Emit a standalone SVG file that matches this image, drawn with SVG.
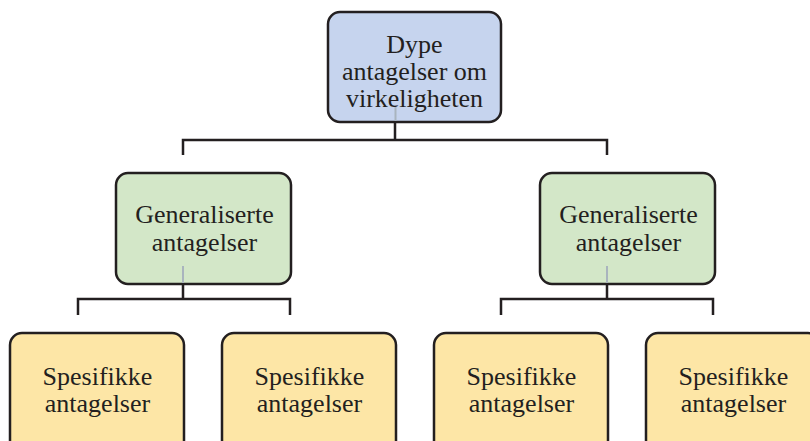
<svg xmlns="http://www.w3.org/2000/svg" width="810" height="441" viewBox="0 0 810 441">
<style>
.box{stroke:#231f20;stroke-width:2.5}
.blue{fill:#c6d4ee}
.green{fill:#d3e7c8}
.yellow{fill:#fde6a6}
.conn{fill:none;stroke:#231f20;stroke-width:2.5}
.faint{stroke:#a9b4be;stroke-width:2}
text{font-family:"Liberation Serif","Times New Roman",serif;font-size:26px;fill:#231f20;text-anchor:middle}
</style>
<rect width="810" height="441" fill="#ffffff"/>
<g id="connectors">
<path class="conn" d="M395,122 V140 M183,155 V140 H607 V155"/>
<path class="conn" d="M183,284 V299 M78,315 V299 H290 V315"/>
<path class="conn" d="M607,284 V299 M501,315 V299 H713 V315"/>
</g>
<g id="root">
<rect class="box blue" x="328" y="12" width="173" height="110" rx="12"/>
<line class="faint" x1="395.5" y1="107" x2="395.5" y2="121"/>
<text x="414.5" y="53">Dype</text>
<text x="414.5" y="80">antagelser om</text>
<text x="414.5" y="107">virkeligheten</text>
</g>
<g id="gen1">
<rect class="box green" x="116" y="173" width="175" height="111" rx="12"/>
<line class="faint" x1="183" y1="266" x2="183" y2="283"/>
<text x="204.5" y="223">Generaliserte</text>
<text x="204.5" y="251">antagelser</text>
</g>
<g id="gen2">
<rect class="box green" x="540" y="173" width="175" height="111" rx="12"/>
<line class="faint" x1="607" y1="266" x2="607" y2="283"/>
<text x="628.5" y="223">Generaliserte</text>
<text x="628.5" y="251">antagelser</text>
</g>
<g id="spec1">
<rect class="box yellow" x="10" y="333" width="174" height="120" rx="12"/>
<text x="97.5" y="385">Spesifikke</text>
<text x="97.5" y="412">antagelser</text>
</g>
<g id="spec2">
<rect class="box yellow" x="222" y="333" width="174" height="120" rx="12"/>
<text x="309.5" y="385">Spesifikke</text>
<text x="309.5" y="412">antagelser</text>
</g>
<g id="spec3">
<rect class="box yellow" x="434" y="333" width="174" height="120" rx="12"/>
<text x="521.5" y="385">Spesifikke</text>
<text x="521.5" y="412">antagelser</text>
</g>
<g id="spec4">
<rect class="box yellow" x="646" y="333" width="174" height="120" rx="12"/>
<text x="733.5" y="385">Spesifikke</text>
<text x="733.5" y="412">antagelser</text>
</g>
</svg>
